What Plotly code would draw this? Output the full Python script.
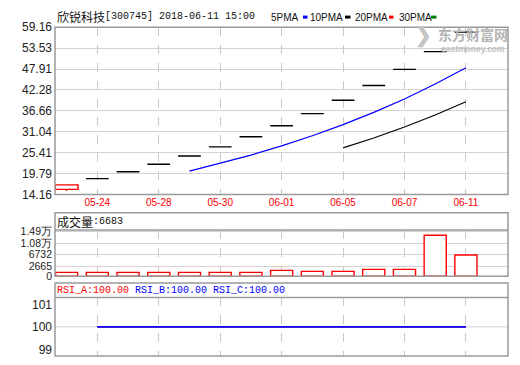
import plotly.graph_objects as go

# ---------------- data ----------------
dates = ["05-23", "05-24", "05-25", "05-28", "05-29", "05-30", "05-31",
         "06-01", "06-04", "06-05", "06-06", "06-07", "06-08", "06-11"]
opens = [15.53, 18.43, 20.27, 22.30, 24.53, 26.98, 29.68,
         32.65, 35.92, 39.51, 43.46, 47.81, 52.59, 57.85]
highs = [16.75, 18.43, 20.27, 22.30, 24.53, 26.98, 29.68,
         32.65, 35.92, 39.51, 43.46, 47.81, 52.59, 57.85]
lows = [15.12, 18.43, 20.27, 22.30, 24.53, 26.98, 29.68,
        32.65, 35.92, 39.51, 43.46, 47.81, 52.59, 57.85]
closes = [16.75, 18.43, 20.27, 22.30, 24.53, 26.98, 29.68,
          32.65, 35.92, 39.51, 43.46, 47.81, 52.59, 57.85]
ma5 = [None, None, None, None, 20.46, 22.50, 24.75,
       27.23, 29.95, 32.95, 36.24, 39.87, 43.86, 48.24]
ma10 = [None, None, None, None, None, None, None,
        None, None, 26.70, 29.37, 32.31, 35.54, 39.10]
volume = [630, 630, 630, 630, 630, 630, 630,
          1310, 970, 970, 1650, 1650, 13510, 6683]
rsi_a = [None, 100, 100, 100, 100, 100, 100, 100, 100, 100, 100, 100, 100, 100]
rsi_b = [None, 100, 100, 100, 100, 100, 100, 100, 100, 100, 100, 100, 100, 100]
rsi_c = [None, 100, 100, 100, 100, 100, 100, 100, 100, 100, 100, 100, 100, 100]

price_ticks = [14.16, 19.79, 25.41, 31.04, 36.66, 42.28, 47.91, 53.53, 59.16]
vol_axis_min, vol_axis_max = -725, 15307
vol_ticks = [vol_axis_min, 2665, 6732, 10799, 14866]
vol_tick_text = ["0", "2665", "6732", "1.08万", "1.49万"]
rsi_ticks = [99, 100, 101]
date_tick_labels = ["05-24", "05-28", "05-30", "06-01", "06-05", "06-07", "06-11"]

title_name = "欣锐科技"
title_rest = "[300745] 2018-06-11 15:00"
ma_labels = ["5PMA", "10PMA", "20PMA", "30PMA"]
ma_colors = ["#0000ff", "#000000", "#ff0000", "#008000"]

# ---------------- helpers ----------------
W, H = 520, 365
def px(x):
    return x / W
def py(y):
    return 1 - y / H

L, R = 55, 508
RED = "#ff0000"
BORDER = "#9a9a9a"
GRID = "#d2d2d2"
VGRID = "#c8c8c8"
LAB = "Liberation Sans, Arial, sans-serif"
MONO = "Liberation Mono, DejaVu Sans Mono, monospace"
CJK = "Noto Sans CJK SC, sans-serif"

idx = list(range(len(dates)))
date_tick_pos = [dates.index(d) for d in date_tick_labels]
half = 0.37

fig = go.Figure()

# ---- candles ----
up_i = [i for i in idx if closes[i] != opens[i]]
flat_i = [i for i in idx if closes[i] == opens[i]]

fig.add_trace(go.Bar(
    x=up_i, base=[min(opens[i], closes[i]) for i in up_i],
    y=[abs(closes[i] - opens[i]) for i in up_i],
    width=2 * half, marker=dict(color="white", line=dict(color=RED, width=1.4)),
    xaxis="x", yaxis="y", hoverinfo="skip"))
wx, wy = [], []
for i in up_i:
    wx += [i, i, None, i, i, None]
    wy += [lows[i], min(opens[i], closes[i]), None, max(opens[i], closes[i]), highs[i], None]
fig.add_trace(go.Scatter(x=wx, y=wy, mode="lines", line=dict(color=RED, width=1.2),
                         xaxis="x", yaxis="y", hoverinfo="skip"))
dx, dy = [], []
for i in flat_i:
    dx += [i - half, i + half, None]
    dy += [closes[i], closes[i], None]
fig.add_trace(go.Scatter(x=dx, y=dy, mode="lines", line=dict(color="black", width=1.4),
                         xaxis="x", yaxis="y", hoverinfo="skip"))

# ---- moving averages ----
fig.add_trace(go.Scatter(x=idx, y=ma5, mode="lines", line=dict(color="#0000ff", width=1.2),
                         xaxis="x", yaxis="y"))
fig.add_trace(go.Scatter(x=idx, y=ma10, mode="lines", line=dict(color="#000000", width=1.1),
                         xaxis="x", yaxis="y"))

# ---- volume (bars drawn up from the panel floor, which is labelled 0) ----
fig.add_trace(go.Bar(x=idx, y=[v - vol_axis_min for v in volume], base=vol_axis_min,
                     width=0.72, customdata=volume, hovertemplate="%{customdata}<extra></extra>",
                     marker=dict(color="white", line=dict(color=RED, width=1.4)),
                     xaxis="x2", yaxis="y2"))

# ---- RSI ----
fig.add_trace(go.Scatter(x=idx, y=rsi_a, mode="lines", line=dict(color=RED, width=1.3),
                         xaxis="x3", yaxis="y3"))
fig.add_trace(go.Scatter(x=idx, y=rsi_b, mode="lines", line=dict(color="#0000ff", width=1.3),
                         xaxis="x3", yaxis="y3"))
fig.add_trace(go.Scatter(x=idx, y=rsi_c, mode="lines", line=dict(color="#0000ff", width=1.3),
                         xaxis="x3", yaxis="y3"))

xr = [-0.378, 14.37]
xcommon = dict(range=xr, domain=[px(L), px(R)], tickmode="array", tickvals=date_tick_pos,
               showgrid=True, gridcolor=VGRID, griddash="dash", gridwidth=1,
               zeroline=False, showline=False, ticks="", fixedrange=True)
ycommon = dict(showline=False, zeroline=False, ticks="", gridcolor=GRID, gridwidth=1,
               ticklabelstandoff=2, fixedrange=True)
yfont = dict(family=LAB, size=12, color="#222222")

fig.update_layout(
    width=W, height=H, margin=dict(l=0, r=0, t=0, b=0),
    paper_bgcolor="white", plot_bgcolor="white", showlegend=False, barmode="overlay",
    xaxis=dict(**xcommon, anchor="y", ticktext=date_tick_labels,
               tickfont=dict(family=LAB, size=10, color=RED)),
    xaxis2=dict(**xcommon, anchor="y2", showticklabels=False),
    xaxis3=dict(**xcommon, anchor="y3", showticklabels=False),
    yaxis=dict(**ycommon, anchor="x", domain=[py(195), py(21)], range=[14.16, 59.16],
               tickmode="array", tickvals=price_ticks, tickfont=yfont,
               ticktext=[f"{v:.2f}" for v in price_ticks]),
    yaxis2=dict(**ycommon, anchor="x2", domain=[py(280), py(232)],
                range=[vol_axis_min, vol_axis_max], tickfont=dict(family=LAB, size=10.5, color="#222222"),
                tickmode="array", tickvals=vol_ticks, ticktext=vol_tick_text),
    yaxis3=dict(**ycommon, anchor="x3", domain=[py(363), py(302)], range=[98.7, 101.31],
                tickmode="array", tickvals=rsi_ticks, ticktext=[str(v) for v in rsi_ticks],
                tickfont=yfont, showgrid=False),
)

shapes = []
shapes.append(dict(type="line", xref="x3 domain", yref="y3", x0=0, x1=1, y0=100, y1=100,
                   line=dict(color=GRID, width=1), layer="below"))
for (t, b) in [(21, 195), (214, 280), (287, 363)]:
    shapes.append(dict(type="rect", xref="paper", yref="paper", x0=px(L), x1=px(R),
                       y0=py(b), y1=py(t), line=dict(color=BORDER, width=1.5)))
for yy in [232, 302]:
    shapes.append(dict(type="line", xref="paper", yref="paper", x0=px(L), x1=px(R),
                       y0=py(yy), y1=py(yy), line=dict(color=BORDER, width=1.5)))

lab_x = [270, 309, 354, 398]
dash_x = [303, 345, 389, 431]
dash_w = [4.5, 5.5, 4.5, 5.5]
for dxp, dw, c in zip(dash_x, dash_w, ma_colors):
    shapes.append(dict(type="line", xref="paper", yref="paper", x0=px(dxp), x1=px(dxp + dw),
                       y0=py(10.5), y1=py(10.5), line=dict(color=c, width=3)))

ann = []
def text(x, y, s, font, size, color, bold=False):
    ann.append(dict(x=px(x), y=py(y), xref="paper", yref="paper", text=(f"<b>{s}</b>" if bold else s),
                    showarrow=False, xanchor="left", yanchor="middle", borderpad=0,
                    font=dict(family=font, size=size, color=color)))

# watermark (logo swoosh approximated by a light glyph) + text
text(414, 30, "❯", LAB, 20, "#c4c4c4", bold=True)
text(437, 28, "东方财富网", CJK, 14, "#b4b4b4", bold=True)
text(440, 44, "eastmoney.com", LAB, 8.5, "#bdbdbd", bold=True)

text(56, 10, title_name, CJK, 12, "#111111")
text(104, 10, title_rest, MONO, 10, "#111111")
for x, s in zip(lab_x, ma_labels):
    text(x, 10.5, s, LAB, 10, "#111111")

text(56, 223, "成交量", CJK, 12, "#111111")
text(92, 223, ":" + str(volume[-1]), MONO, 10, "#111111")

rsi_names = ["RSI_A", "RSI_B", "RSI_C"]
rsi_vals = [rsi_a[-1], rsi_b[-1], rsi_c[-1]]
rsi_cols = [RED, "#0000ff", "#0000ff"]
rx = [56, 134, 212]
for x, n, v, c in zip(rx, rsi_names, rsi_vals, rsi_cols):
    text(x, 294.5, f"{n}:{v:.2f}", MONO, 10, c)

fig.update_layout(shapes=shapes, annotations=ann)
fig.write_html("out.html", config={"displayModeBar": False},
               post_script="document.body.style.margin='0px';")
